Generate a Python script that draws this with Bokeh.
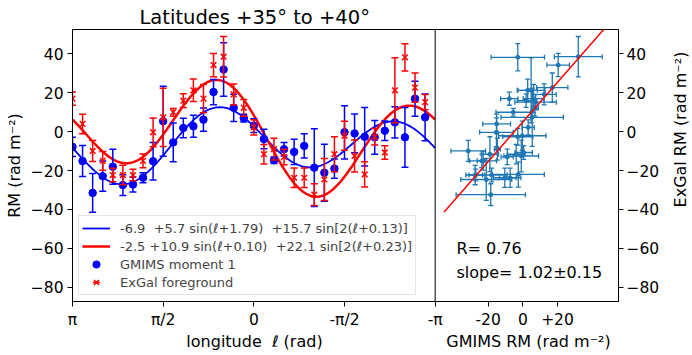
import math
import numpy as np
from bokeh.plotting import figure
from bokeh.layouts import row, column
from bokeh.models import (Range1d, LinearAxis, FixedTicker, ColumnDataSource, Span,
                          Label, Legend, LegendItem)
from bokeh.embed import file_html
from bokeh.resources import INLINE

# ---------------- data ----------------
lon_deg = [180, 170, 160, 150, 140, 130, 120, 110, 100, 90, 80, 70, 60, 50, 40, 30, 20, 10,
           0, -10, -20, -30, -40, -50, -60, -70, -80, -90, -100, -110, -120, -130, -140, -150, -160, -170]
gmims_rm = [-7.8, -15.1, -31.5, -22.9, -18.0, -27.5, -27.2, -23.7, -15.2, 5.4, -5.5, 1.9,
            2.8, 6.2, 20.4, 32.0, 12.3, 7.0, 3.1, -3.8, -14.7, -9.0, -10.4, -7.3,
            -18.5, -21.1, -19.0, -0.3, -0.9, -2.6, -2.9, 0.5, 4.8, -2.9, 17.0, 7.4]
gmims_err = [5.0, 8.0, 10.0, 7.8, 9.0, 5.4, 3.9, 2.6, 9.7, 18.0, 10.0, 5.0,
             5.6, 6.0, 6.5, 13.8, 7.0, 2.0, 3.5, 5.0, 1.7, 3.5, 6.5, 6.2,
             20.0, 14.7, 5.0, 13.7, 10.0, 15.0, 8.7, 5.0, 8.0, 15.4, 9.0, 12.0]
exgal_rm = [17.0, 4.0, -9.9, -15.0, -22.3, -22.3, -22.3, -15.0, -0.3, 7.4, 10.0, 16.0,
            21.3, 17.0, 34.3, 38.6, 19.2, 12.3, 2.2, -11.6, -9.0, -13.0, -23.7, -23.7,
            -32.4, -24.6, -11.6, -2.1, -12.5, -22.0, -2.6, -10.7, 21.3, 38.3, 22.7, 15.2]
exgal_err = [3.4, 5.0, 5.4, 4.8, 3.5, 5.0, 3.0, 3.5, 7.4, 15.0, 2.0, 3.5,
             5.8, 7.3, 6.0, 10.4, 5.4, 4.3, 3.9, 5.0, 5.6, 4.0, 5.0, 5.0,
             5.6, 10.8, 9.0, 7.5, 8.2, 6.5, 4.3, 3.5, 16.7, 7.0, 7.5, 3.9]
# fit:  c0 + a1 sin(l + p1) + a2 sin[2(l + p2)]
gmims_fit = [-6.9, 5.7, 1.79, 15.7, 0.13]
exgal_fit = [-2.5, 10.9, 0.10, 22.1, 0.23]
corr_fit = [1.02, 5.0]          # slope, intercept of ExGal vs GMIMS
corr_line_x = [-45.4, 55.2]
left_tick_labels = ["π", "π/2", "0", "-π/2", "-π"]
y_ticks = [-80, -60, -40, -20, 0, 20, 40]
right_x_ticks = [-20, 0, 20]
right_x_labels = ["-20", "0", "+20"]

FONT = "DejaVu Sans"
BLUE, RED, C0 = "#0000ff", "#ff0000", "#1f77b4"
NB = "\u00a0"

# ---------------- layout ----------------
BL, BR, BT, BB = 72, 42, 29, 30
W, H = 662, 331
FW, FH = W - BL - BR, H - BT - BB          # 548 x 272
LEFT_W = 364
x_start = math.pi
x_end = math.pi - 2 * math.pi * FW / LEFT_W
rx_start, rx_end = -259.8, 55.2

p = figure(width=W, height=H, output_backend="svg", toolbar_location=None,
           x_range=Range1d(x_start, x_end), y_range=Range1d(-87.4, 52.6),
           min_border_left=BL, min_border_right=BR, min_border_top=BT, min_border_bottom=BB)
p.extra_x_ranges = {"right": Range1d(rx_start, rx_end)}
p.xgrid.visible = False
p.ygrid.visible = False
p.outline_line_color = "black"
p.background_fill_color = "white"
p.border_fill_color = "white"

p.title.text = "Latitudes +35° to +40°"
p.title.align = "left"
p.title.offset = 67
p.title.standoff = 2
p.title.text_font = FONT
p.title.text_font_size = "19.5px"
p.title.text_font_style = "normal"
p.title.text_color = "black"


def right_to_main(v):
    frac = (v - rx_start) / (rx_end - rx_start)
    return x_start + frac * (x_end - x_start)


left_tick_pos = [math.pi, math.pi / 2, 0.0, -math.pi / 2, -math.pi]
xt = left_tick_pos + [right_to_main(v) for v in right_x_ticks]
xl = left_tick_labels + right_x_labels
xa = p.xaxis[0]
xa.ticker = FixedTicker(ticks=xt)
xa.major_label_overrides = {t: l for t, l in zip(xt, xl)}

ylabels = {t: (("−" + str(-t)) if t < 0 else str(t)) for t in y_ticks}
ya = p.yaxis[0]
ya.ticker = FixedTicker(ticks=y_ticks)
ya.major_label_overrides = ylabels
ya.axis_label = "RM (rad m⁻²)"
ya.axis_label_standoff = 4

ra = LinearAxis(ticker=FixedTicker(ticks=y_ticks), major_label_overrides=ylabels)
p.add_layout(ra, "right")

for ax in [xa, ya, ra]:
    ax.major_label_text_font = FONT
    ax.major_label_text_font_size = "15.5px"
    ax.axis_label_text_font = FONT
    ax.axis_label_text_font_size = "16px"
    ax.axis_label_text_font_style = "normal"
    ax.minor_tick_line_color = None
    ax.major_tick_in = 0
    ax.major_tick_out = 5
    ax.major_label_standoff = 4
    ax.axis_line_color = "black"
    ax.major_tick_line_color = "black"
    ax.major_label_text_color = "black"
    ax.axis_label_text_color = "black"
ra.major_label_standoff = 3

p.add_layout(Span(location=-math.pi, dimension="height", line_color="black", line_width=1))

# ---------------- left panel ----------------
lon = np.radians(lon_deg)
g = np.array(gmims_rm)
ge = np.array(gmims_err)
e = np.array(exgal_rm)
ee = np.array(exgal_err)

lc = np.linspace(-math.pi, math.pi, 400)


def fitcurve(c):
    return c[0] + c[1] * np.sin(lc + c[2]) + c[3] * np.sin(2 * (lc + c[4]))


bl = p.line(lc, fitcurve(gmims_fit), line_color=BLUE, line_width=1.8)
rl = p.line(lc, fitcurve(exgal_fit), line_color=RED, line_width=2.5)

src_b = ColumnDataSource(dict(x=lon, y=g, lo=g - ge, hi=g + ge))
p.segment(x0="x", y0="lo", x1="x", y1="hi", source=src_b, line_color=BLUE, line_width=1.5)
p.scatter(x="x", y="lo", source=src_b, marker="dash", size=7, line_color=BLUE, line_width=1.5)
p.scatter(x="x", y="hi", source=src_b, marker="dash", size=7, line_color=BLUE, line_width=1.5)
p.scatter(x="x", y="y", source=src_b, marker="circle", size=7.5, fill_color=BLUE, line_color=BLUE)

src_r = ColumnDataSource(dict(x=lon, y=e, lo=e - ee, hi=e + ee))
p.segment(x0="x", y0="lo", x1="x", y1="hi", source=src_r, line_color=RED, line_width=1.5)
p.scatter(x="x", y="lo", source=src_r, marker="dash", size=7, line_color=RED, line_width=1.5)
p.scatter(x="x", y="hi", source=src_r, marker="dash", size=7, line_color=RED, line_width=1.5)
p.scatter(x="x", y="y", source=src_r, marker="x", size=8, line_color=RED, line_width=1.5)

# legend-only renderers (nothing visible on the plot)
nan = [float("nan")]
dot_b = p.scatter(x=nan, y=nan, marker="circle", size=7.5, fill_color=BLUE, line_color=BLUE)
bar_r = p.scatter(x=nan, y=nan, marker="dash", angle=math.pi / 2, size=7, line_color=RED, line_width=1.5)
x_r = p.scatter(x=nan, y=nan, marker="x", size=8, line_color=RED, line_width=1.5)

legend = Legend(items=[
    LegendItem(label=f"-6.9{NB} +5.7 sin(ℓ+1.79){NB} +15.7 sin[2(ℓ+0.13)]", renderers=[bl]),
    LegendItem(label=f"-2.5 +10.9 sin(ℓ+0.10){NB} +22.1 sin[2(ℓ+0.23)]", renderers=[rl]),
    LegendItem(label="GMIMS moment 1", renderers=[dot_b]),
    LegendItem(label="ExGal foreground", renderers=[bar_r, x_r]),
], location=(6, 6), label_text_font=FONT, label_text_font_size="13px",
    glyph_width=28, glyph_height=18, label_height=18, spacing=0, padding=3, margin=0,
    label_standoff=10, border_line_color="#cccccc", border_line_width=1,
    background_fill_color="white", background_fill_alpha=0.8)
p.add_layout(legend)

# ---------------- right panel ----------------
src_c = ColumnDataSource(dict(gx=g, ey=e, glo=g - ge, ghi=g + ge, elo=e - ee, ehi=e + ee))
kw = dict(source=src_c, x_range_name="right")
p.segment(x0="glo", y0="ey", x1="ghi", y1="ey", line_color=C0, line_width=1.3, **kw)
p.segment(x0="gx", y0="elo", x1="gx", y1="ehi", line_color=C0, line_width=1.3, **kw)
for cx, cy, ang in [("glo", "ey", math.pi / 2), ("ghi", "ey", math.pi / 2),
                    ("gx", "elo", 0.0), ("gx", "ehi", 0.0)]:
    p.scatter(x=cx, y=cy, marker="dash", angle=ang, size=5, line_color=C0, line_width=1.3, **kw)
p.scatter(x="gx", y="ey", marker="circle", size=4, fill_color=C0, line_color=C0, **kw)

cly = [corr_fit[0] * xv + corr_fit[1] for xv in corr_line_x]
p.line(corr_line_x, cly, x_range_name="right", line_color=RED, line_width=1.5)

for yy, txt in [(53, "R= 0.76"), (29, "slope= 1.02±0.15")]:
    p.add_layout(Label(x=384, y=yy, x_units="screen", y_units="screen", text=txt,
                       text_baseline="alphabetic", text_font=FONT, text_font_size="16px",
                       text_color="black"))


# ---------------- label strips (axis titles outside the frame) ----------------
def strip(w, h):
    s = figure(width=w, height=h, output_backend="svg", toolbar_location=None, title=None,
               x_axis_type=None, y_axis_type=None, x_range=Range1d(0, 1), y_range=Range1d(0, 1),
               min_border_left=0, min_border_right=0, min_border_top=0, min_border_bottom=0)
    s.outline_line_color = None
    s.xgrid.visible = False
    s.ygrid.visible = False
    s.background_fill_color = "white"
    s.border_fill_color = "white"
    return s


rs = strip(30, H)
rs.add_layout(Label(x=17.5, y=H - 159, x_units="screen", y_units="screen",
                    text="ExGal RM (rad m⁻²)", angle=math.pi / 2, text_align="center",
                    text_baseline="alphabetic", text_font=FONT, text_font_size="16px",
                    text_color="black"))

bs = strip(W, 24)
for cx, txt in [(254, f"longitude{NB} ℓ (rad)"), (528, "GMIMS RM (rad m⁻²)")]:
    bs.add_layout(Label(x=cx, y=14, x_units="screen", y_units="screen", text=txt,
                        text_align="center", text_baseline="alphabetic", text_font=FONT,
                        text_font_size="16px", text_color="black"))

layout = column(row(p, rs), bs)
open("out.html", "w").write(file_html(layout, INLINE))
